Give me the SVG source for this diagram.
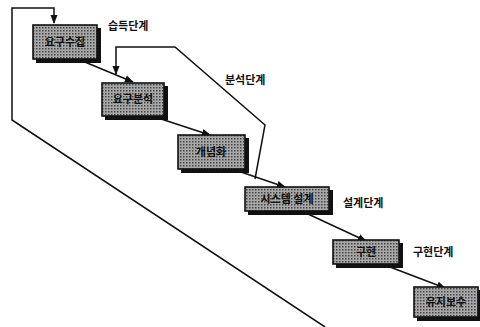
<svg xmlns="http://www.w3.org/2000/svg" width="480" height="327" viewBox="0 0 480 327">
<style>
.shadow{fill:#111}
.box{stroke:#111;stroke-width:1.6}
.lbl{font-family:"Noto Sans CJK KR","Noto Sans",sans-serif;font-size:11px;font-weight:bold;fill:#111;text-anchor:middle}
.phase{font-family:"Noto Sans CJK KR","Noto Sans",sans-serif;font-size:11px;font-weight:bold;fill:#111}
.ln{fill:none;stroke:#111;stroke-width:1.5}
</style>
<defs>
<pattern id="ht" width="3" height="3" patternUnits="userSpaceOnUse">
<rect width="3" height="3" fill="#a8a8a8"/>
<rect width="1.5" height="1.5" fill="#444"/>
</pattern>
<marker id="ah" viewBox="0 0 10 10" refX="9" refY="5" markerWidth="6" markerHeight="6" orient="auto">
<path d="M0,1 L10,5 L0,9 z" fill="#111"/>
</marker>
</defs>
<g id="connectors">
<path class="ln" d="M80,60 L133,82" marker-end="url(#ah)"/>
<path class="ln" d="M155,117 L210,135" marker-end="url(#ah)"/>
<path class="ln" d="M238,171 L285,187" marker-end="url(#ah)"/>
<path class="ln" d="M308,214 L366,241" marker-end="url(#ah)"/>
<path class="ln" d="M390,267 L445,288" marker-end="url(#ah)"/>
<path class="ln" d="M325,327 L12,120 L12,8 L54,8 L54,23" marker-end="url(#ah)"/>
<path class="ln" d="M255,179 L265,125 L175,47 L116,47 L116,74" marker-end="url(#ah)"/>
</g>
<g id="n1">
<rect class="shadow" x="36" y="28" width="65" height="35"/>
<rect class="box" x="33" y="25" width="64" height="34" fill="url(#ht)"/>
<text class="lbl" x="65" y="46">요구수집</text>
</g>
<g id="n2">
<rect class="shadow" x="105" y="86" width="63" height="34"/>
<rect class="box" x="102" y="83" width="62" height="33" fill="url(#ht)"/>
<text class="lbl" x="133" y="103">요구분석</text>
</g>
<g id="n3">
<rect class="shadow" x="181" y="138" width="68" height="35"/>
<rect class="box" x="178" y="135" width="67" height="34" fill="url(#ht)"/>
<text class="lbl" x="211" y="156">개념화</text>
</g>
<g id="n4">
<rect class="shadow" x="248" y="190" width="85" height="25"/>
<rect class="box" x="245" y="187" width="84" height="24" fill="url(#ht)"/>
<text class="lbl" x="287" y="203">시스템 설계</text>
</g>
<g id="n5">
<rect class="shadow" x="336" y="243" width="67" height="25"/>
<rect class="box" x="333" y="240" width="66" height="24" fill="url(#ht)"/>
<text class="lbl" x="366" y="256">구현</text>
</g>
<g id="n6">
<rect class="shadow" x="417" y="290" width="63" height="31"/>
<rect class="box" x="414" y="287" width="64" height="30" fill="url(#ht)"/>
<text class="lbl" x="446" y="306">유지보수</text>
</g>
<g id="phases">
<text class="phase" x="108" y="30">습득단계</text>
<text class="phase" x="225" y="84">분석단계</text>
<text class="phase" x="343" y="207">설계단계</text>
<text class="phase" x="413" y="256">구현단계</text>
</g>
</svg>
